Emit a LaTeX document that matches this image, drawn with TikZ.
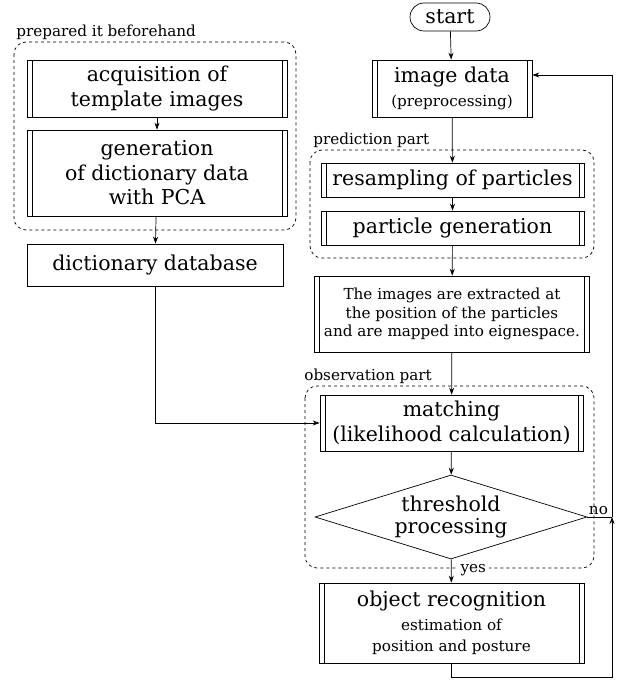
\documentclass[tikz,border=0pt]{standalone}
\usepackage{fontspec}
\setmainfont{DejaVu Serif}
\usetikzlibrary{shapes.geometric,arrows.meta}
\newcommand\bigtxt{\fontsize{20.5}{24.5}\selectfont}
\newcommand\smalltxt{\fontsize{15.2}{18.5}\selectfont}
\newcommand\labeltxt{\fontsize{15.2}{18}\selectfont}

\begin{document}
\begin{tikzpicture}[x=1pt, y=-1pt,
    line width=0.7pt,
    proc/.style={draw, align=center, inner sep=0pt, font=\bigtxt,
        path picture={\draw[line width=0.7pt]
            ([xshift=5pt]path picture bounding box.north west) -- ([xshift=5pt]path picture bounding box.south west)
            ([xshift=-5pt]path picture bounding box.north east) -- ([xshift=-5pt]path picture bounding box.south east);}},
    plain/.style={draw, align=center, inner sep=0pt, font=\bigtxt},
    term/.style={draw, rounded corners=14pt, inner sep=0pt, font=\bigtxt},
    decide/.style={draw, diamond, aspect=3.2, inner sep=0pt, align=center, font=\bigtxt},
    group/.style={draw, dashed, rounded corners=12pt},
    grouplabel/.style={font=\labeltxt, anchor=south west, inner sep=1pt},
    arrow/.style={-{Stealth[length=7pt,width=5pt]}}
]
    \useasboundingbox (0,0) rectangle (632,682);

    % Groups
    \draw[group] (14,42) rectangle (296,230);
    \draw[group] (310,150) rectangle (594,258);
    \draw[group] (305,386) rectangle (594,568);
    \node[grouplabel] (prepLbl) at (15,41) {prepared it beforehand};
    \node[grouplabel] (predLbl) at (312,149) {prediction part};
    \node[grouplabel] (obsLbl) at (303,385) {observation part};

    % Left column
    \node[proc, minimum width=260pt, minimum height=57pt] (acq) at (157,88.5) {acquisition of\\template images};
    \node[proc, minimum width=260pt, minimum height=86pt] (gen) at (157,173) {generation\\of dictionary data\\with PCA};
    \node[plain, minimum width=256pt, minimum height=42pt] (dict) at (155,265) {dictionary database};

    % Right column
    \node[term, minimum width=80pt, minimum height=28pt] (start) at (450,17) {start};
    \node[proc, minimum width=160pt, minimum height=57pt] (img) at (452,88.5) {image data\\{\smalltxt (preprocessing)}};
    \node[proc, minimum width=263pt, minimum height=34pt] (resamp) at (452.5,180) {resampling of particles};
    \node[proc, minimum width=263pt, minimum height=34pt] (partgen) at (452.5,228) {particle generation};
    \node[proc, minimum width=275pt, minimum height=76pt, font=\smalltxt] (extract) at (452,314)
        {The images are extracted at\\the position of the particles\\and are mapped into eignespace.};
    \node[proc, minimum width=263pt, minimum height=56pt] (match) at (451.5,423) {matching\\(likelihood calculation)};
    \node[decide, minimum width=272pt, minimum height=84pt] (thresh) at (451,517) {threshold\\[-2pt]processing};
    \node[proc, minimum width=265pt, minimum height=80pt] (objrec) at (451.5,623)
        {object recognition\\[-1pt]{\smalltxt estimation of}\\[-3pt]{\smalltxt position and posture}};

    % Loop coordinates
    \coordinate (loopB) at (612,677);
    \coordinate (loopJ) at (612,517);
    \coordinate (loopT) at (612,75);

    % Left connections
    \draw[arrow] (acq) -- (gen);
    \draw[arrow] (gen) -- (dict);
    \draw[arrow] (dict.south) |- (match.west);

    % Right connections
    \draw[arrow] (start) -- (img);
    \draw[arrow] (img) -- (resamp);
    \draw[arrow] (resamp) -- (partgen);
    \draw[arrow] (partgen) -- (extract);
    \draw[arrow] (extract) -- (match);
    \draw[arrow] (match) -- (thresh);
    \draw[arrow] (thresh) -- (objrec) node[pos=0.48, right, xshift=6pt, fill=white, inner sep=3pt, font=\labeltxt] {yes};

    % Feedback loop
    \draw (thresh.east) -- (loopJ) node[pos=0.45, above, font=\labeltxt, inner sep=2pt] {no};
    \draw[arrow] (objrec.south) |- (loopB) -- (loopJ);
    \draw[arrow] (loopJ) -- (loopT) -- (img.east |- loopT);
\end{tikzpicture}
\end{document}
